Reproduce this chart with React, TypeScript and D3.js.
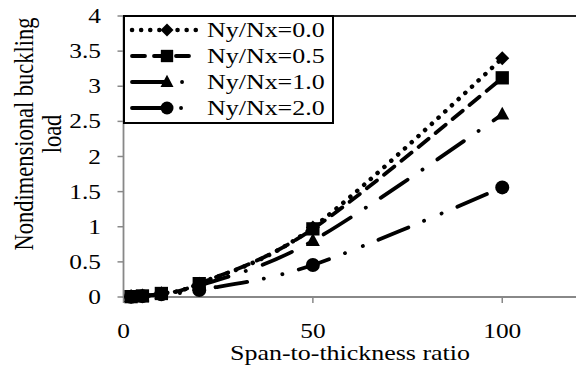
import React from "react";
import * as d3 from "d3";

const xValues = [2, 5, 10, 20, 50, 100];
const seriesNames = ["Ny/Nx=0.0", "Ny/Nx=0.5", "Ny/Nx=1.0", "Ny/Nx=2.0"];
const s00 = [0.005, 0.015, 0.05, 0.19, 0.99, 3.4];
const s05 = [0.005, 0.015, 0.05, 0.19, 0.97, 3.12];
const s10 = [0.005, 0.015, 0.045, 0.16, 0.8, 2.6];
const s20 = [0.004, 0.012, 0.04, 0.1, 0.455, 1.56];
const yTicks = [0, 0.5, 1, 1.5, 2, 2.5, 3, 3.5, 4];
const xTicks = [0, 50, 100];

const allSeries = [s00, s05, s10, s20];
const dashes = ["0.1 9", "13 9", "32 18 0.1 18", "32 17 0.1 19 0.1 17"];
const markers = ["diamond", "square", "triangle", "circle"];

const FONT = "'Liberation Serif', 'Times New Roman', Times, serif";
const SX = 1.18;

function markerPath(kind: string, s: number): string {
  if (kind === "diamond") return `M0,${-s}L${s},0L0,${s}L${-s},0Z`;
  if (kind === "square") return `M${-s * 0.95},${-s * 0.95}h${s * 1.9}v${s * 1.9}h${-s * 1.9}Z`;
  if (kind === "triangle") return `M0,${-s * 1.1}L${s},${s * 0.75}L${-s},${s * 0.75}Z`;
  return d3.symbol(d3.symbolCircle, Math.PI * s * s)() as string;
}

export default function App() {
  const W = 576;
  const H = 370;
  const x = d3.scaleLinear().domain([0, 120]).range([123.5, 578]);
  const y = d3.scaleLinear().domain([0, 4]).range([297, 16]);
  const line = d3
    .line<number>()
    .x((_, i) => x(xValues[i]))
    .y((d) => y(d))
    .curve(d3.curveCardinal.tension(0));

  const axisColor = "#888";
  const legX = 124;
  const legY = 16;
  const legW = 209;
  const legH = 107;
  const rowH = 26;

  return (
    <svg
      width={W}
      height={H}
      style={{ position: "absolute", left: 0, top: 0, background: "#fff" }}
      fontFamily={FONT}
    >
      <rect x={0} y={0} width={W} height={H} fill="#fff" />
      <line x1={x(0)} x2={W} y1={y(4)} y2={y(4)} stroke="#222" strokeWidth={2} />
      <line x1={x(0)} x2={W} y1={y(0)} y2={y(0)} stroke={axisColor} strokeWidth={1.8} />
      <line x1={x(0)} x2={x(0)} y1={y(4)} y2={y(0) + 1} stroke={axisColor} strokeWidth={1.8} />
      <g fill="#000">
        {yTicks.map((t) => (
          <text
            key={"ytl" + t}
            transform={`translate(101,${y(t) + 7}) scale(${SX},1)`}
            textAnchor="end"
            fontSize={21.5}
          >
            {String(t)}
          </text>
        ))}
        {xTicks.map((t) => (
          <text
            key={"xtl" + t}
            transform={`translate(${x(t)},338) scale(${SX},1)`}
            textAnchor="middle"
            fontSize={21.5}
          >
            {String(t)}
          </text>
        ))}
        <text
          transform={`translate(350,360) scale(${SX},1)`}
          textAnchor="middle"
          fontSize={22}
        >
          Span-to-thickness ratio
        </text>
        <text
          transform={`translate(33,134) scale(${SX},1) rotate(-90)`}
          textAnchor="middle"
          fontSize={22.5}
        >
          Nondimensional buckling
        </text>
        <text
          transform={`translate(61,134) scale(${SX},1) rotate(-90)`}
          textAnchor="middle"
          fontSize={22.5}
        >
          load
        </text>
      </g>
      {yTicks.map((t) => (
        <line key={"yt" + t} x1={x(0) - 6} x2={x(0)} y1={y(t)} y2={y(t)} stroke={axisColor} strokeWidth={1.5} />
      ))}
      {xTicks.map((t) => (
        <line key={"xt" + t} x1={x(t)} x2={x(t)} y1={y(0)} y2={y(0) + 6} stroke={axisColor} strokeWidth={1.5} />
      ))}
      {allSeries.map((s, k) => (
        <path
          key={"l" + k}
          d={line(s) as string}
          fill="none"
          stroke="#000"
          strokeWidth={k === 0 ? 4.5 : 3.8}
          strokeDasharray={dashes[k]}
          strokeLinecap="round"
        />
      ))}
      {allSeries.map((s, k) => (
        <g key={"m" + k}>
          {s.map((v, i) => (
            <path
              key={i}
              d={markerPath(markers[k], 7)}
              transform={`translate(${x(xValues[i])},${y(v)})`}
              fill="#000"
            />
          ))}
        </g>
      ))}
      <rect x={legX} y={legY} width={legW} height={legH} fill="#fff" stroke="#000" strokeWidth={2} />
      {seriesNames.map((name, k) => {
        const cy = legY + 14 + k * rowH;
        return (
          <g key={"lg" + k}>
            <line
              x1={132}
              x2={196}
              y1={cy}
              y2={cy}
              stroke="#000"
              strokeWidth={k === 0 ? 4.5 : 3.8}
              strokeDasharray={dashes[k]}
              strokeLinecap="round"
            />
            <path d={markerPath(markers[k], 6.5)} transform={`translate(167,${cy})`} fill="#000" />
            <text
              transform={`translate(207,${cy + 7}) scale(${SX},1)`}
              fontSize={22}
              fill="#000"
            >
              {name}
            </text>
          </g>
        );
      })}
    </svg>
  );
}
